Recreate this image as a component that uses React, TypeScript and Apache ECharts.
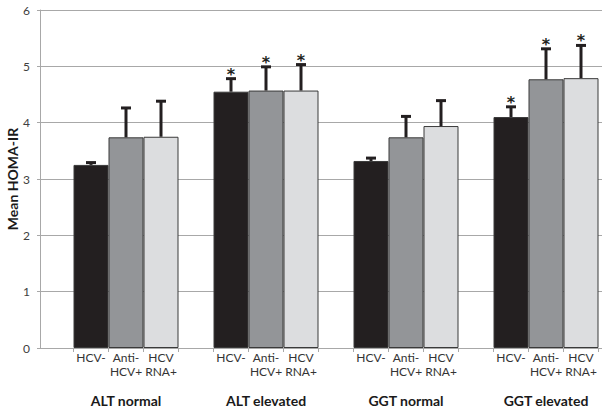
import React, { useEffect, useRef } from "react";
import * as echarts from "echarts";

const categories = ["ALT normal", "ALT elevated", "GGT normal", "GGT elevated"];
const groupNames = ["HCV-", "Anti-\nHCV+", "HCV\nRNA+"];
const hcvNeg = [3.25, 4.55, 3.32, 4.1];
const hcvNegErr = [3.3, 4.79, 3.38, 4.29];
const antiHcv = [3.74, 4.57, 3.74, 4.77];
const antiHcvErr = [4.27, 5.0, 4.12, 5.32];
const hcvRna = [3.75, 4.57, 3.94, 4.79];
const hcvRnaErr = [4.39, 5.04, 4.4, 5.38];
const significant = [0, 1, 0, 1];
const yTicks = [0, 1, 2, 3, 4, 5, 6];

const FONT = "Lato, 'Open Sans', sans-serif";
const INK = "#231f20";
const GRID = "#a8a8a8";

export default function App() {
  const ref = useRef<HTMLDivElement>(null);
  useEffect(() => {
    if (!ref.current) return;
    const chart = echarts.init(ref.current, null, { renderer: "svg" });

    const means = [hcvNeg, antiHcv, hcvRna];
    const errs = [hcvNegErr, antiHcvErr, hcvRnaErr];
    const colors = [INK, "#939598", "#dcdddf"];

    const barSeries = means.map((vals, s) => ({
      type: "bar",
      name: groupNames[s],
      data: vals,
      barGap: "0%",
      barCategoryGap: "25%",
      itemStyle: { color: colors[s], borderColor: "#3a3a3a", borderWidth: 1 },
      label: {
        show: true,
        position: "bottom",
        distance: 2,
        formatter: () => groupNames[s],
        fontFamily: FONT,
        fontSize: 12,
        lineHeight: 14,
        color: "#333",
        align: "center",
      },
      z: 2,
    }));

    const errSeries = means.map((vals, s) => ({
      type: "custom",
      data: vals.map((v, i) => [i, v, errs[s][i], significant[i]]),
      itemStyle: { color: INK },
      z: 5,
      renderItem: (params: any, api: any) => {
        const cat = api.value(0);
        const top = api.value(1);
        const e = api.value(2);
        const star = api.value(3);
        const band = api.size([1, 0])[0];
        const barW = (band * 0.75) / 3;
        const x = api.coord([cat, 0])[0] + (s - 1) * barW;
        const y1 = api.coord([cat, top])[1];
        const y2 = api.coord([cat, e])[1];
        const children: any[] = [
          {
            type: "line",
            shape: { x1: x, y1: y1, x2: x, y2: y2 + 1 },
            style: { stroke: INK, lineWidth: 3 },
          },
          {
            type: "line",
            shape: { x1: x - 5, y1: y2 + 0.5, x2: x + 5, y2: y2 + 0.5 },
            style: { stroke: INK, lineWidth: 3 },
          },
        ];
        if (star) {
          children.push({
            type: "text",
            x: x,
            y: y2 - 4,
            style: {
              text: "*",
              fontFamily: "'DejaVu Sans', sans-serif",
              fontSize: 16,
              fontWeight: "bold",
              fill: INK,
              align: "center",
              verticalAlign: "middle",
            },
          });
        }
        return { type: "group", children };
      },
    }));

    const tickSeries = {
      type: "custom",
      data: categories.map((_, i) => [i, 0]),
      itemStyle: { color: GRID },
      z: 1,
      renderItem: (params: any, api: any) => {
        const cat = api.value(0);
        const band = api.size([1, 0])[0];
        const barW = (band * 0.75) / 3;
        const c = api.coord([cat, 0]);
        const children = [-1.5, -0.5, 0.5, 1.5].map((k) => ({
          type: "line",
          shape: { x1: c[0] + k * barW, y1: c[1], x2: c[0] + k * barW, y2: c[1] + 4 },
          style: { stroke: GRID, lineWidth: 1 },
        }));
        return { type: "group", children };
      },
    };

    chart.setOption({
      animation: false,
      grid: { left: 56, right: -14, top: 10, bottom: 62, outerBoundsMode: "none", containLabel: false },
      xAxis: {
        type: "category",
        data: categories,
        axisLine: { lineStyle: { color: GRID, width: 1 } },
        axisTick: { show: false },
        axisLabel: {
          fontFamily: FONT,
          fontSize: 14,
          fontWeight: "bold",
          color: "#1a1a1a",
          margin: 45,
        },
      },
      yAxis: [
        {
          type: "value",
          min: yTicks[0],
          max: yTicks[yTicks.length - 1],
          interval: 1,
          offset: 16,
          name: "Mean HOMA-IR",
          nameLocation: "middle",
          nameGap: 21,
          nameMoveOverlap: false,
          nameTextStyle: { fontFamily: FONT, fontSize: 14, fontWeight: "bold", color: "#1a1a1a" },
          axisLine: { show: true, lineStyle: { color: GRID, width: 1 } },
          axisTick: { show: true, inside: true, length: 16, lineStyle: { color: GRID, width: 1 } },
          splitLine: { show: true, lineStyle: { color: GRID, width: 1 } },
          axisLabel: { fontFamily: FONT, fontSize: 12, color: "#404040", margin: 10 },
        },
        {
          type: "value",
          min: yTicks[0],
          max: yTicks[yTicks.length - 1],
          interval: 1,
          position: "left",
          offset: 16,
          axisLine: { show: false },
          axisTick: { show: true, length: 3, lineStyle: { color: GRID, width: 1 } },
          splitLine: { show: false },
          axisLabel: { show: false },
        },
      ],
      series: [...barSeries, ...errSeries, tickSeries],
    });
    return () => chart.dispose();
  }, []);
  return <div ref={ref} style={{ width: 602, height: 410, position: "absolute", left: 0, top: 0 }} />;
}
